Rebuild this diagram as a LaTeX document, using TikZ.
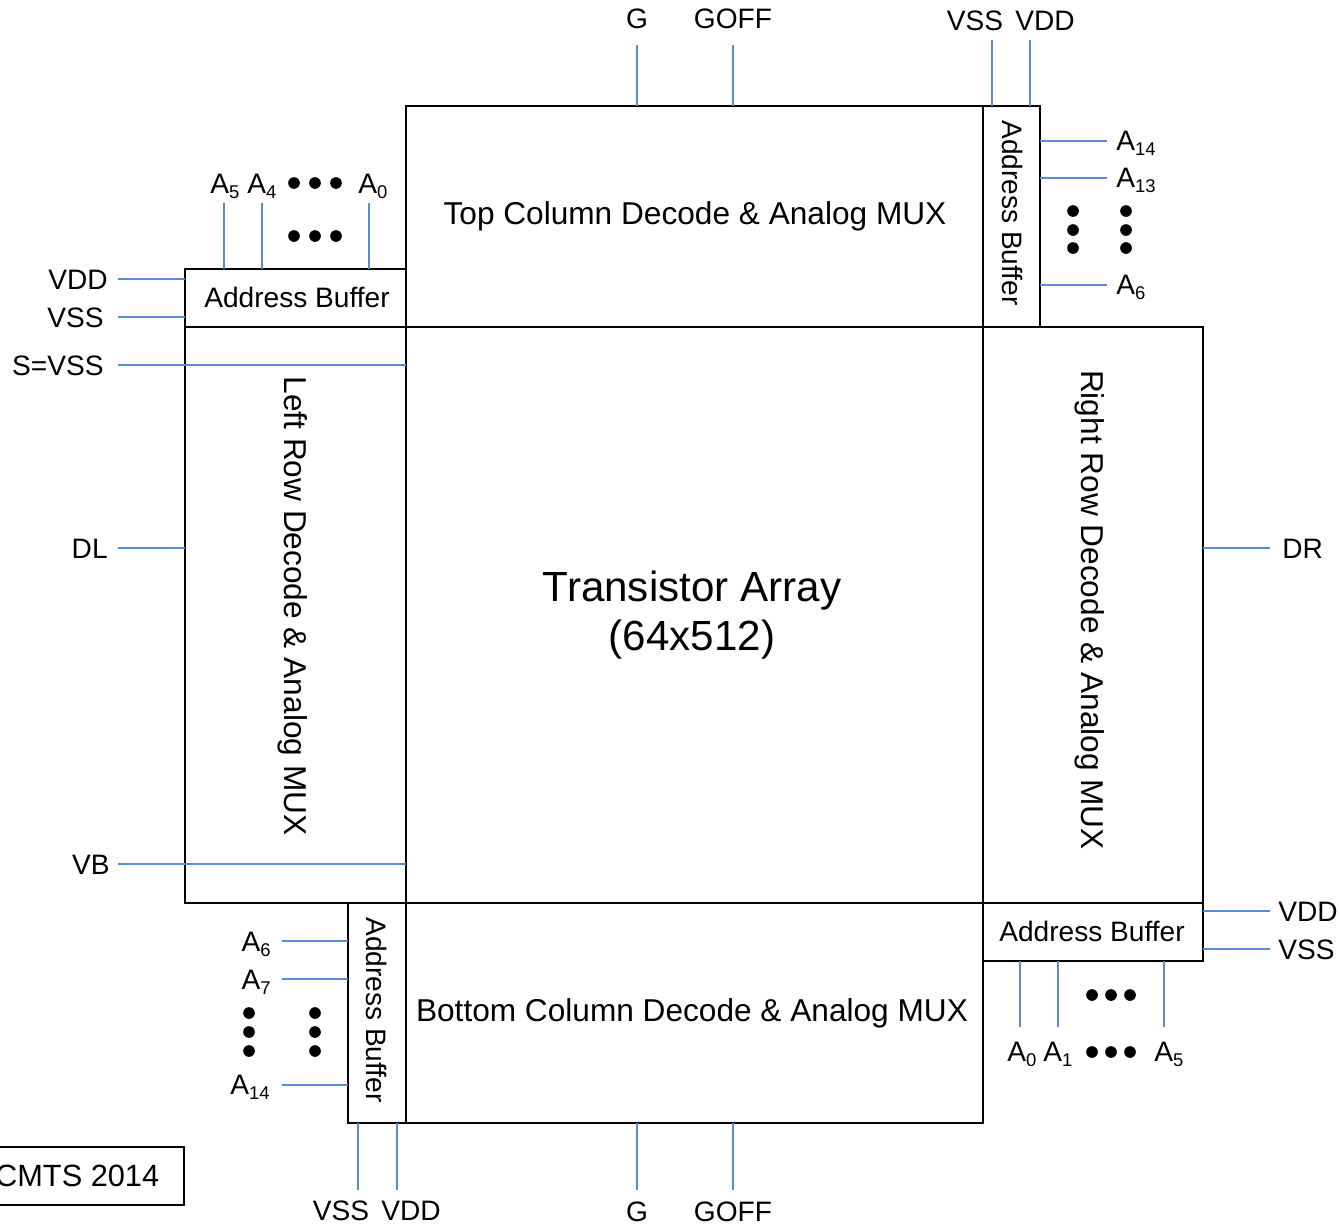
\documentclass[tikz,border=0pt]{standalone}
\usepackage{fontspec}
\setmainfont{Liberation Sans}
\usetikzlibrary{calc, positioning}
\definecolor{wireblue}{RGB}{85,142,213}
\newcommand{\pinsub}[1]{\raisebox{-3pt}{\fontsize{10.5}{12}\selectfont #1}}

\begin{document}
\begin{tikzpicture}[x=0.02cm, y=-0.02cm,
  blk/.style={draw, line width=1.3pt, inner sep=0pt, outer sep=0pt},
  wire/.style={wireblue, line width=1.3pt},
  lbl/.style={font=\fontsize{16}{19}\selectfont, inner sep=0pt},
  big/.style={font=\fontsize{18}{21}\selectfont, inner sep=0pt}]
  \useasboundingbox (0,0) rectangle (1340,1225);

  % Blocks
  \node[blk, minimum width=11.54cm, minimum height=11.52cm] (arr) at (694.5,615) {};
  \node[blk, minimum width=11.54cm, minimum height=4.42cm] (topdec) at (694.5,216.5) {};
  \node[blk, minimum width=11.54cm, minimum height=4.40cm] (botdec) at (694.5,1013) {};
  \node[blk, minimum width=4.42cm, minimum height=11.52cm] (lrow) at (295.5,615) {};
  \node[blk, minimum width=4.40cm, minimum height=11.52cm] (rrow) at (1093,615) {};
  \node[blk, minimum width=4.42cm, minimum height=1.16cm] (lbuf) at (295.5,298) {};
  \node[blk, minimum width=4.40cm, minimum height=1.16cm] (rbuf) at (1093,932) {};
  \node[blk, minimum width=1.14cm, minimum height=4.42cm] (trbuf) at (1011.5,216.5) {};
  \node[blk, minimum width=1.16cm, minimum height=4.40cm] (blbuf) at (377,1013) {};

  % Block texts
  \node[font=\fontsize{24}{28}\selectfont, align=center] (arrtxt) at (692,615) {Transistor Array\\(64x512)};
  \node[big] (toptxt) at (695,216) {Top Column Decode \& Analog MUX};
  \node[big] (bottxt) at (692,1013) {Bottom Column Decode \& Analog MUX};
  \node[big, rotate=-90] (ltxt) at (293,606) {Left Row Decode \& Analog MUX};
  \node[big, rotate=-90] (rtxt) at (1090,610) {Right Row Decode \& Analog MUX};
  \node[lbl] (lbuftxt) at (297,297) {Address Buffer};
  \node[lbl] (rbuftxt) at (1092,931) {Address Buffer};
  \node[lbl, rotate=-90] (trbuftxt) at (1013,213) {Address Buffer};
  \node[lbl, rotate=-90] (blbuftxt) at (377,1010) {Address Buffer};

  % Top pins
  \node[lbl, anchor=base] (gt) at (637,28) {G};
  \node[lbl, anchor=base] (gofft) at (733,28) {GOFF};
  \node[lbl, anchor=base] (vsst) at (975,30) {VSS};
  \node[lbl, anchor=base] (vddt) at (1045,30) {VDD};
  \draw[wire] (topdec.north -| gt) -- ++(0,-61);
  \draw[wire] (topdec.north -| gofft) -- ++(0,-61);
  \draw[wire] ($(trbuf.north west)+(9,0)$) -- ++(0,-66);
  \draw[wire] ($(trbuf.north east)+(-10,0)$) -- ++(0,-66);

  % Top right address pins
  \node[lbl, anchor=base west] (ra14) at (1116,150) {A\pinsub{14}};
  \node[lbl, anchor=base west] (ra13) at (1116,187) {A\pinsub{13}};
  \node[lbl, anchor=base west] (ra6) at (1116,294) {A\pinsub{6}};
  \draw[wire] ($(trbuf.north east)+(0,35)$) -- ++(67,0);
  \draw[wire] ($(trbuf.north east)+(0,72)$) -- ++(67,0);
  \draw[wire] ($(trbuf.north east)+(0,179)$) -- ++(67,0);
  \foreach \y in {211,230,248} {
    \fill (1073,\y) circle (0.117cm);
    \fill (1126,\y) circle (0.117cm);
  }

  % Left address buffer pins
  \node[lbl, anchor=base west] (la5) at (210,193) {A\pinsub{5}};
  \node[lbl, anchor=base west] (la4) at (247,193) {A\pinsub{4}};
  \node[lbl, anchor=base west] (la0) at (358,193) {A\pinsub{0}};
  \draw[wire] ($(lbuf.north west)+(39,0)$) -- ++(0,-66);
  \draw[wire] ($(lbuf.north west)+(77,0)$) -- ++(0,-66);
  \draw[wire] ($(lbuf.north west)+(184,0)$) -- ++(0,-66);
  \foreach \x in {294,315,336} {
    \fill (\x,183) circle (0.117cm);
    \fill (\x,236) circle (0.117cm);
  }

  % Left side pins
  \node[lbl, anchor=base east] (vddl) at (108,289) {VDD};
  \node[lbl, anchor=base east] (vssl) at (104,327) {VSS};
  \node[lbl, anchor=base east] (sl) at (104,375) {S=VSS};
  \node[lbl, anchor=base east] (dl) at (108,558) {DL};
  \node[lbl, anchor=base east] (vb) at (110,874) {VB};
  \draw[wire] ($(lbuf.north west)+(0,10)$) -- ++(-67,0);
  \draw[wire] ($(lbuf.south west)+(0,-10)$) -- ++(-67,0);
  \draw[wire] ($(arr.north west)+(0,38)$) -- ++(-288,0);
  \draw[wire] ($(lrow.north west)+(0,221)$) -- ++(-67,0);
  \draw[wire] ($(arr.south west)+(0,-39)$) -- ++(-288,0);

  % Right side pins
  \node[lbl, anchor=base west] (dr) at (1282,558) {DR};
  \node[lbl, anchor=base west] (vddr) at (1278,921) {VDD};
  \node[lbl, anchor=base west] (vssr) at (1278,959) {VSS};
  \draw[wire] ($(rrow.north east)+(0,221)$) -- ++(67,0);
  \draw[wire] ($(rbuf.north east)+(0,8)$) -- ++(67,0);
  \draw[wire] ($(rbuf.south east)+(0,-12)$) -- ++(67,0);

  % Bottom right address pins
  \node[lbl, anchor=base west] (ba0) at (1007,1061) {A\pinsub{0}};
  \node[lbl, anchor=base west] (ba1) at (1043,1061) {A\pinsub{1}};
  \node[lbl, anchor=base west] (ba5) at (1154,1061) {A\pinsub{5}};
  \draw[wire] ($(rbuf.south west)+(37,0)$) -- ++(0,66);
  \draw[wire] ($(rbuf.south west)+(75,0)$) -- ++(0,66);
  \draw[wire] ($(rbuf.south west)+(181,0)$) -- ++(0,66);
  \foreach \x in {1092,1111,1130} {
    \fill (\x,995) circle (0.117cm);
    \fill (\x,1052) circle (0.117cm);
  }

  % Bottom left address pins
  \node[lbl, anchor=base east] (la6) at (271,951) {A\pinsub{6}};
  \node[lbl, anchor=base east] (la7) at (271,989) {A\pinsub{7}};
  \node[lbl, anchor=base east] (la14) at (270,1094) {A\pinsub{14}};
  \draw[wire] ($(blbuf.north west)+(0,38)$) -- ++(-66,0);
  \draw[wire] ($(blbuf.north west)+(0,76)$) -- ++(-66,0);
  \draw[wire] ($(blbuf.north west)+(0,182)$) -- ++(-66,0);
  \foreach \y in {1013,1032,1051} {
    \fill (249,\y) circle (0.117cm);
    \fill (315,\y) circle (0.117cm);
  }

  % Bottom pins
  \node[lbl, anchor=base] (vssb) at (341,1220) {VSS};
  \node[lbl, anchor=base] (vddb) at (411,1220) {VDD};
  \node[lbl, anchor=base] (gb) at (637,1221) {G};
  \node[lbl, anchor=base] (goffb) at (733,1221) {GOFF};
  \draw[wire] ($(blbuf.south west)+(10,0)$) -- ++(0,67);
  \draw[wire] ($(blbuf.south east)+(-9,0)$) -- ++(0,67);
  \draw[wire] (botdec.south -| gb) -- ++(0,67);
  \draw[wire] (botdec.south -| goffb) -- ++(0,67);

  % Year box
  \node[draw, line width=0.9pt, anchor=east, minimum height=1.16cm, inner xsep=0.5cm,
        font=\fontsize{17.5}{20}\selectfont] (cmts) at (185,1176) {CMTS 2014};
\end{tikzpicture}
\end{document}
